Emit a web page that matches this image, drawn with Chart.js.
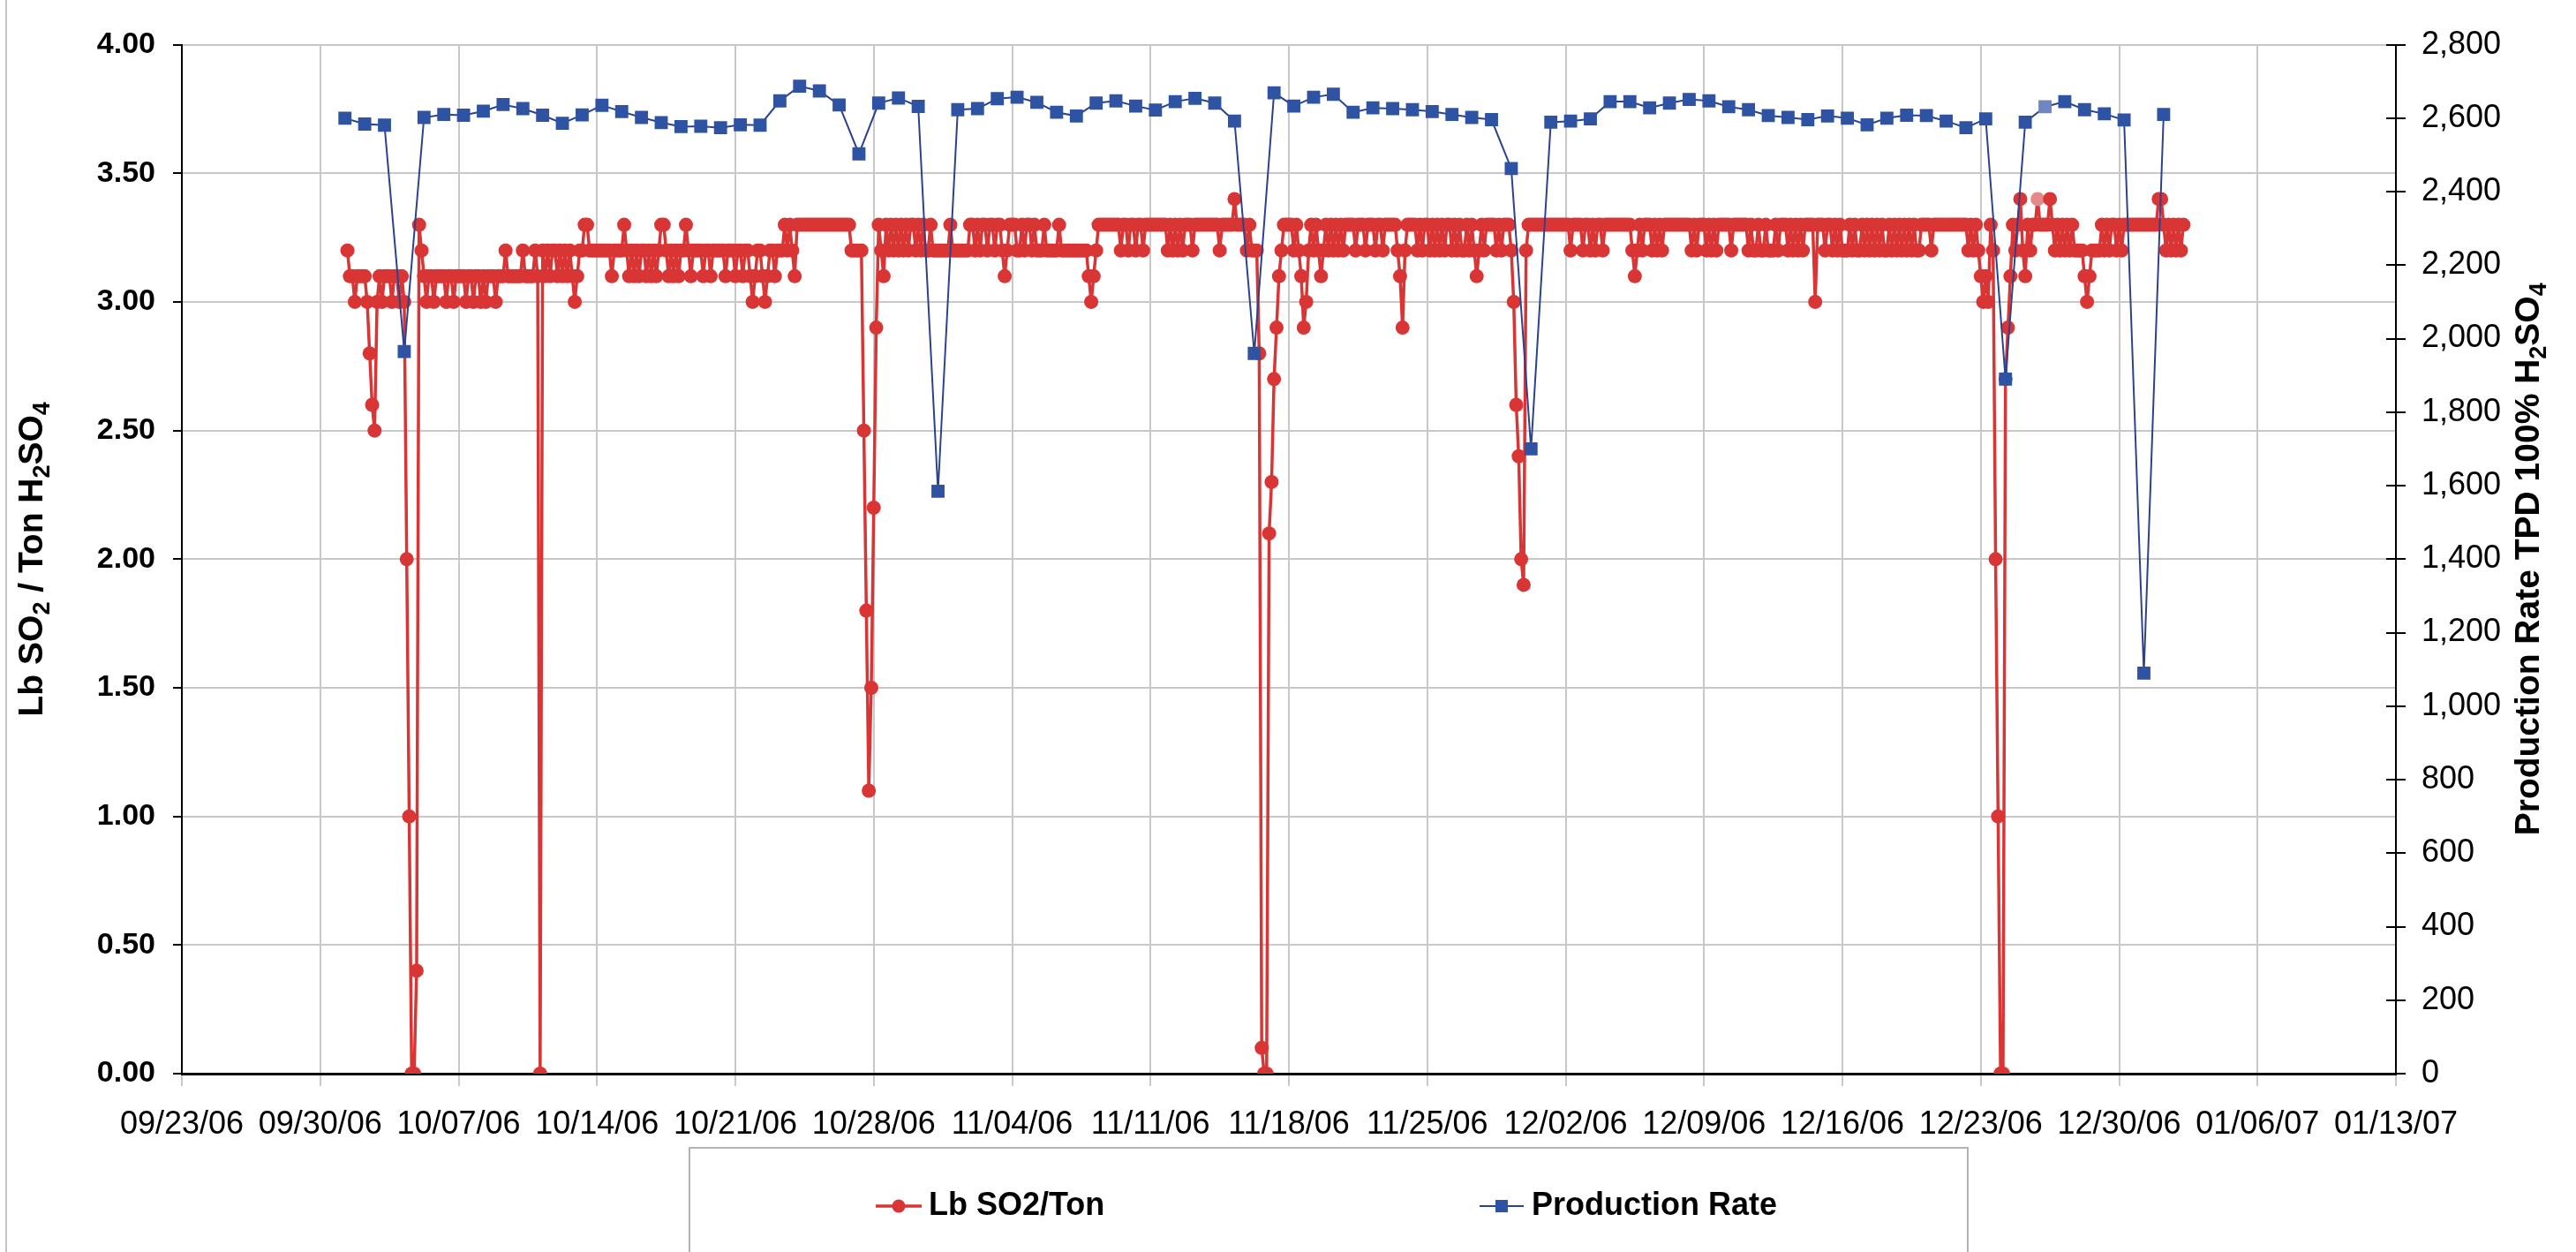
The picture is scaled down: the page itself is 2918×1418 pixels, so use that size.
<!DOCTYPE html>
<html>
<head>
<meta charset="utf-8">
<script src="https://cdn.jsdelivr.net/npm/chart.js@4.4.1/dist/chart.umd.min.js"></script>
<style>
html,body{margin:0;padding:0;background:#ffffff;}
canvas{display:block;}
</style>
</head>
<body>
<canvas id="c" width="2918" height="1418"></canvas>
<script>
// ---------------- DATA ----------------
const xTickLabels = ['09/23/06','09/30/06','10/07/06','10/14/06','10/21/06','10/28/06','11/04/06','11/11/06',
  '11/18/06','11/25/06','12/02/06','12/09/06','12/16/06','12/23/06','12/30/06','01/06/07','01/13/07'];
const seriesNames = ['Lb SO2/Ton', 'Production Rate'];
// axis titles: [text, isSubscript]
const leftTitleParts = [['Lb SO', 0], ['2', 1], [' / Ton H', 0], ['2', 1], ['SO', 0], ['4', 1]];
const rightTitleParts = [['Production Rate TPD 100% H', 0], ['2', 1], ['SO', 0], ['4', 1]];

// Lb SO2/Ton readings, every 3 hours starting 10/01/06 09:00
const so2Start = '2006-10-01T09:00';
const so2StepHours = 3;
const so2Values = [
3.2,3.1,3.1,3.0,3.1,3.1,3.1,3.1,
3.0,2.8,2.6,2.5,3.0,3.1,3.0,3.1,
3.1,3.1,3.0,3.1,3.1,3.0,3.1,3.0,
2.0,1.0,0.0,0.0,0.4,3.3,3.2,3.1,
3.0,3.1,3.1,3.0,3.1,3.1,3.1,3.1,
3.0,3.1,3.1,3.0,3.1,3.1,3.1,3.1,
3.0,3.1,3.1,3.0,3.1,3.1,3.0,3.1,
3.0,3.1,3.1,3.1,3.0,3.1,3.1,3.1,
3.2,3.1,3.1,3.1,3.1,3.1,3.1,3.2,
3.1,3.1,3.1,3.1,3.2,3.1,0.0,3.2,
3.1,3.2,3.1,3.2,3.2,3.1,3.2,3.1,
3.2,3.1,3.2,3.1,3.0,3.1,3.2,3.2,
3.3,3.3,3.2,3.2,3.2,3.2,3.2,3.2,
3.2,3.2,3.2,3.1,3.2,3.2,3.2,3.2,
3.3,3.2,3.1,3.2,3.1,3.2,3.1,3.2,
3.2,3.1,3.2,3.1,3.2,3.1,3.2,3.3,
3.3,3.2,3.1,3.2,3.1,3.2,3.1,3.2,
3.2,3.3,3.2,3.1,3.2,3.2,3.2,3.2,
3.1,3.2,3.2,3.1,3.2,3.2,3.2,3.2,
3.2,3.1,3.2,3.2,3.2,3.1,3.2,3.2,
3.1,3.2,3.2,3.1,3.0,3.1,3.2,3.2,
3.1,3.0,3.1,3.2,3.2,3.1,3.2,3.2,
3.2,3.3,3.2,3.3,3.2,3.1,3.3,3.3,
3.3,3.3,3.3,3.3,3.3,3.3,3.3,3.3,
3.3,3.3,3.3,3.3,3.3,3.3,3.3,3.3,
3.3,3.3,3.3,3.3,3.2,3.2,3.2,3.2,
3.2,2.5,1.8,1.1,1.5,2.2,2.9,3.3,
3.2,3.1,3.3,3.2,3.3,3.2,3.3,3.2,
3.3,3.2,3.3,3.2,3.3,3.3,3.2,3.3,
3.2,3.3,3.2,3.2,3.3,3.2,3.2,3.2,
3.2,3.2,3.2,3.2,3.3,3.2,3.2,3.2,
3.2,3.2,3.2,3.2,3.3,3.3,3.2,3.3,
3.2,3.3,3.3,3.2,3.3,3.3,3.2,3.3,
3.3,3.2,3.1,3.2,3.3,3.3,3.3,3.2,
3.2,3.3,3.2,3.3,3.3,3.2,3.3,3.2,
3.2,3.2,3.3,3.2,3.2,3.2,3.2,3.2,
3.3,3.2,3.2,3.2,3.2,3.2,3.2,3.2,
3.2,3.2,3.2,3.2,3.1,3.0,3.1,3.2,
3.3,3.3,3.3,3.3,3.3,3.3,3.3,3.3,
3.3,3.2,3.3,3.3,3.2,3.3,3.3,3.2,
3.3,3.3,3.2,3.3,3.3,3.3,3.3,3.3,
3.3,3.3,3.3,3.3,3.2,3.3,3.2,3.3,
3.2,3.3,3.2,3.3,3.3,3.3,3.2,3.3,
3.3,3.3,3.3,3.3,3.3,3.3,3.3,3.3,
3.3,3.2,3.3,3.3,3.3,3.3,3.3,3.4,
3.3,3.3,3.3,3.3,3.2,3.3,3.2,3.2,
3.2,2.8,0.1,0.0,0.0,2.1,2.3,2.7,
2.9,3.1,3.2,3.3,3.3,3.3,3.3,3.2,
3.3,3.2,3.1,2.9,3.0,3.2,3.3,3.2,
3.3,3.2,3.1,3.2,3.3,3.2,3.3,3.2,
3.3,3.2,3.3,3.2,3.3,3.3,3.3,3.3,
3.2,3.3,3.3,3.3,3.2,3.3,3.3,3.3,
3.2,3.3,3.3,3.2,3.3,3.3,3.3,3.3,
3.3,3.2,3.1,2.9,3.2,3.3,3.3,3.3,
3.3,3.2,3.3,3.2,3.3,3.3,3.2,3.3,
3.2,3.3,3.2,3.3,3.2,3.3,3.3,3.2,
3.3,3.2,3.3,3.2,3.2,3.3,3.2,3.3,
3.2,3.1,3.2,3.3,3.2,3.3,3.3,3.3,
3.3,3.2,3.3,3.2,3.3,3.3,3.3,3.2,
3.0,2.6,2.4,2.0,1.9,3.2,3.3,3.3,
3.3,3.3,3.3,3.3,3.3,3.3,3.3,3.3,
3.3,3.3,3.3,3.3,3.3,3.3,3.3,3.2,
3.3,3.3,3.3,3.3,3.2,3.3,3.3,3.2,
3.3,3.2,3.3,3.3,3.2,3.3,3.3,3.3,
3.3,3.3,3.3,3.3,3.3,3.3,3.3,3.3,
3.2,3.1,3.2,3.3,3.2,3.3,3.3,3.3,
3.2,3.3,3.2,3.3,3.2,3.3,3.3,3.3,
3.3,3.3,3.3,3.3,3.3,3.3,3.3,3.3,
3.2,3.3,3.2,3.3,3.3,3.3,3.2,3.3,
3.2,3.3,3.2,3.3,3.3,3.3,3.3,3.3,
3.2,3.3,3.3,3.3,3.3,3.3,3.3,3.2,
3.3,3.2,3.2,3.3,3.2,3.2,3.3,3.2,
3.2,3.2,3.3,3.2,3.3,3.3,3.3,3.2,
3.3,3.2,3.3,3.2,3.3,3.2,3.3,3.3,
3.3,3.3,3.0,3.3,3.3,3.3,3.2,3.3,
3.3,3.2,3.3,3.2,3.3,3.2,3.2,3.2,
3.3,3.2,3.3,3.2,3.2,3.3,3.2,3.3,
3.2,3.3,3.2,3.3,3.2,3.3,3.2,3.2,
3.3,3.2,3.3,3.2,3.3,3.2,3.3,3.2,
3.3,3.2,3.3,3.2,3.2,3.3,3.3,3.3,
3.3,3.2,3.3,3.3,3.3,3.3,3.3,3.3,
3.3,3.3,3.3,3.3,3.3,3.3,3.3,3.3,
3.2,3.3,3.2,3.3,3.2,3.1,3.0,3.1,
3.0,3.3,3.2,2.0,1.0,0.0,0.0,2.7,
2.9,3.1,3.3,3.2,3.3,3.4,3.2,3.1,
3.3,3.2,3.3,3.3,3.4,3.3,3.3,3.3,
3.3,3.4,3.3,3.2,3.3,3.2,3.3,3.2,
3.3,3.2,3.3,3.2,3.2,3.2,3.2,3.1,
3.0,3.1,3.2,3.2,3.2,3.2,3.3,3.2,
3.3,3.2,3.3,3.3,3.2,3.3,3.2,3.3,
3.3,3.3,3.3,3.3,3.3,3.3,3.3,3.3,
3.3,3.3,3.3,3.3,3.3,3.4,3.4,3.3,
3.2,3.3,3.2,3.3,3.2,3.3,3.2,3.3
];

// Production Rate TPD, daily starting 10/01/06
const prodStart = '2006-10-01T06:00';
const prodValues = [
2600,2584,2581,1965,2602,2610,2608,2619,2637,2626,2608,2586,2609,2635,2618,2602,2588,2577,2578,2574,
2582,2581,2647,2687,2674,2636,2503,2641,2655,2632,1585,
2623,2626,2653,2657,2643,2616,2606,2641,2647,2633,2622,2645,2654,2641,2592,1960,2669,2633,2657,2665,
2616,2628,2626,2623,2618,2610,2602,2596,2463,1700,
2589,2592,2598,2645,2645,2628,2641,2651,2647,2631,2623,2607,2602,2596,2606,2600,2582,2600,2608,2607,
2592,2574,2598,1890,2589,2631,2645,2623,2612,2595,1090,
2610
];

// ---------------- STYLE ----------------
const FONT = "'Liberation Sans', Arial, Helvetica, sans-serif";
const RED = '#d93535';
const RED_FADED = '#e58a8a';
const BLUE = '#2e53a2';
const BLUE_FADED = '#6f86c2';
const BLUE_LINE = '#2b428f';
const GRID = '#c8c8c8';
const W = 2918, H = 1418;
const AREA = {left: 206, right: 2714, top: 24, bottom: 1216};
const TITLE_SIZE = 39;
const FADED_SO2_POINT = 684;   // washed-out marker in the scan (12/26)
const FADED_PROD_POINT = 86;   // washed-out marker in the scan (12/26)

const AXIS_START = Date.UTC(2006, 8, 23);
const DAY = 86400000;
function dayOf(iso) { return (Date.parse(iso + 'Z') - AXIS_START) / DAY; }
const so2X0 = dayOf(so2Start);
const so2Data = so2Values.map((v, i) => ({x: so2X0 + i * so2StepHours / 24, y: v}));
const prodX0 = dayOf(prodStart);
const prodData = prodValues.map((v, i) => ({x: prodX0 + i, y: v}));

Chart.defaults.font.family = FONT;
Chart.defaults.color = '#000';

function drawRotatedTitle(c, parts, baseX, centerY, size) {
  const subSize = Math.round(size * 0.68);
  const fonts = parts.map(p => 'bold ' + (p[1] ? subSize : size) + 'px ' + FONT);
  let total = 0;
  const widths = parts.map((p, i) => { c.font = fonts[i]; const w = c.measureText(p[0]).width; total += w; return w; });
  c.save();
  c.translate(baseX, centerY);
  c.rotate(-Math.PI / 2);
  c.fillStyle = '#000';
  c.textAlign = 'left';
  c.textBaseline = 'alphabetic';
  let x = -total / 2;
  parts.forEach((p, i) => {
    c.font = fonts[i];
    c.fillText(p[0], x, p[1] ? size * 0.2 : 0);
    x += widths[i];
  });
  c.restore();
}

const decor = {
  id: 'decor',
  afterDraw(chart) {
    const c = chart.ctx, a = chart.chartArea;
    c.save();
    // outer frame line on the left
    c.strokeStyle = '#c4c4c4'; c.lineWidth = 2;
    c.beginPath(); c.moveTo(7, 0); c.lineTo(7, H); c.stroke();
    // right axis crossing tick marks
    const y1 = chart.scales.y1;
    c.strokeStyle = '#000'; c.lineWidth = 2;
    y1.ticks.forEach(t => {
      const y = Math.round(y1.getPixelForValue(t.value));
      c.beginPath(); c.moveTo(a.right - 11, y); c.lineTo(a.right + 11, y); c.stroke();
    });
    // axis titles (read bottom to top)
    const cy = (a.top + a.bottom) / 2;
    drawRotatedTitle(c, leftTitleParts, 48, cy, TITLE_SIZE);
    drawRotatedTitle(c, rightTitleParts, 2876, cy, TITLE_SIZE);
    // legend
    c.strokeStyle = '#b4b4b4'; c.lineWidth = 2;
    c.strokeRect(781, 1300, 2229 - 781, 200);
    const LY = 1366;
    const ds = chart.data.datasets;
    c.strokeStyle = ds[0].borderColor; c.lineWidth = 3.5;
    c.beginPath(); c.moveTo(992, LY); c.lineTo(1044, LY); c.stroke();
    c.fillStyle = RED;
    c.beginPath(); c.arc(1018, LY, 7.5, 0, Math.PI * 2); c.fill();
    c.strokeStyle = ds[1].borderColor; c.lineWidth = 2;
    c.beginPath(); c.moveTo(1676, LY); c.lineTo(1726, LY); c.stroke();
    c.fillStyle = BLUE;
    c.fillRect(1701 - 7, LY - 7, 14, 14);
    c.font = 'bold 36px ' + FONT;
    c.fillStyle = '#000'; c.textAlign = 'left'; c.textBaseline = 'middle';
    c.fillText(ds[0].label, 1052, LY);
    c.fillText(ds[1].label, 1735, LY);
    c.restore();
  }
};

new Chart(document.getElementById('c').getContext('2d'), {
  type: 'line',
  data: {
    datasets: [
      {
        label: seriesNames[0], data: so2Data, yAxisID: 'y',
        borderColor: RED, backgroundColor: RED, borderWidth: 3.5,
        pointRadius: 8, pointHoverRadius: 8, pointBorderWidth: 0,
        pointBackgroundColor: (ctx) => ctx.dataIndex === FADED_SO2_POINT ? RED_FADED : RED,
        tension: 0, order: 1
      },
      {
        label: seriesNames[1], data: prodData, yAxisID: 'y1',
        borderColor: BLUE_LINE, backgroundColor: BLUE, borderWidth: 2,
        pointStyle: 'rect', pointRadius: 10.5, pointHoverRadius: 10.5, pointBorderWidth: 0,
        pointBackgroundColor: (ctx) => ctx.dataIndex === FADED_PROD_POINT ? BLUE_FADED : BLUE,
        tension: 0, order: 0
      }
    ]
  },
  options: {
    responsive: false, animation: false, devicePixelRatio: 1,
    layout: {padding: {top: AREA.top, left: 0, right: 0, bottom: 0}},
    plugins: {legend: {display: false}, tooltip: {enabled: false}},
    events: [],
    scales: {
      x: {
        type: 'linear', position: 'bottom', min: 0, max: 112,
        ticks: {
          stepSize: 7, autoSkip: false, maxRotation: 0, minRotation: 0, padding: 22,
          font: {size: 36}, color: '#000',
          callback: (v) => xTickLabels[Math.round(v / 7)]
        },
        grid: {color: GRID, lineWidth: 2, tickLength: 14, tickColor: GRID, tickWidth: 2},
        border: {display: true, color: '#000', width: 3},
        afterFit: (s) => { s.height = H - AREA.bottom; }
      },
      y: {
        position: 'left', min: 0, max: 4,
        ticks: {stepSize: 0.5, padding: 20, font: {size: 34, weight: 'bold'}, color: '#000',
          callback: (v) => Number(v).toFixed(2)},
        grid: {color: GRID, lineWidth: 2, tickLength: 10, tickColor: '#000', tickWidth: 2},
        border: {display: true, color: '#000', width: 2},
        afterFit: (s) => { s.width = AREA.left; }
      },
      y1: {
        position: 'right', min: 0, max: 2800,
        ticks: {stepSize: 200, padding: 29, font: {size: 36}, color: '#000',
          callback: (v) => Number(v).toLocaleString('en-US')},
        grid: {display: true, drawOnChartArea: false, drawTicks: false},
        border: {display: true, color: '#000', width: 2},
        afterFit: (s) => { s.width = W - AREA.right; }
      }
    }
  },
  plugins: [decor]
});
</script>
</body>
</html>
